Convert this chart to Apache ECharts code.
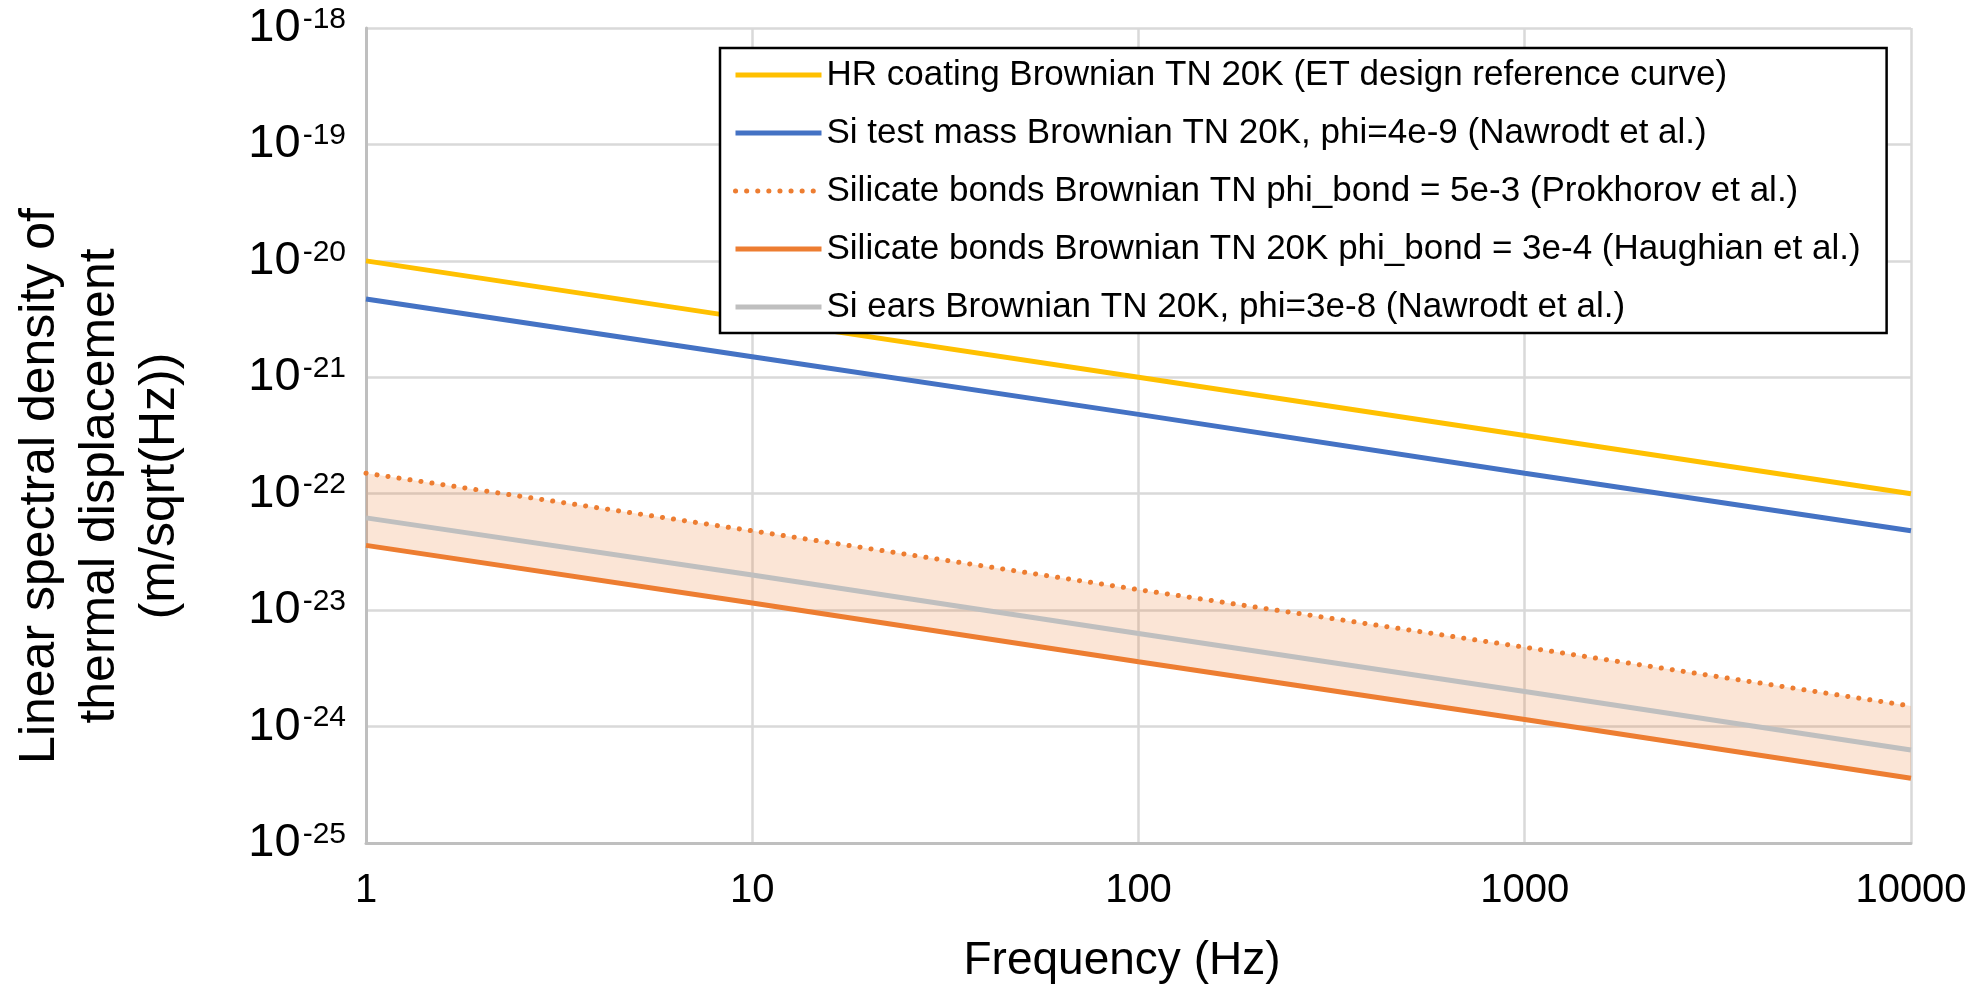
<!DOCTYPE html>
<html>
<head>
<meta charset="utf-8">
<script src="https://cdn.jsdelivr.net/npm/echarts@6/dist/echarts.min.js"></script>
<style>
  html, body { margin: 0; padding: 0; background: #fff; }
  #chart { width: 1973px; height: 984px; }
</style>
</head>
<body>
<div id="chart"></div>
<script>
  // frequencies (Hz) and noise levels (m/sqrt(Hz))
  const freqs = [1, 10, 100, 1000, 10000]
  const hrCoating = [1e-20, 3.16e-21, 1e-21, 3.16e-22, 1e-22]
  const siTestMass = [4.7e-21, 1.5e-21, 4.8e-22, 1.5e-22, 4.8e-23]
  const bondsProkhorov = [1.5e-22, 4.8e-23, 1.5e-23, 4.8e-24, 1.5e-24]
  const bondsHaughian = [3.6e-23, 1.15e-23, 3.6e-24, 1.15e-24, 3.6e-25]
  const siEars = [6.2e-23, 2e-23, 6.3e-24, 2e-24, 6.3e-25]
  // y ticks as powers of ten
  const yExpMin = -25
  const yExpMax = -18

  const names = [
    'HR coating Brownian TN 20K (ET design reference curve)',
    'Si test mass Brownian TN 20K, phi=4e-9 (Nawrodt et al.)',
    'Silicate bonds Brownian TN phi_bond = 5e-3 (Prokhorov et al.)',
    'Silicate bonds Brownian TN 20K phi_bond = 3e-4 (Haughian et al.)',
    'Si ears Brownian TN 20K, phi=3e-8 (Nawrodt et al.)',
  ]

  const font = "'Liberation Sans', Arial, Helvetica, sans-serif"
  // echarts rounds values below 1e-20 to zero, so the y axis works on log10 of the value
  const pairs = arr => freqs.map((f, i) => [f, Math.log10(arr[i])])
  const lineItem = { type: 'line', symbol: 'none', showSymbol: false, smooth: false, z: 3 }

  const chart = echarts.init(document.getElementById('chart'))
  chart.setOption({
    backgroundColor: '#fff',
    animation: false,
    grid: { left: 366, right: 62, top: 28, bottom: 141 },
    legend: {
      orient: 'vertical',
      left: 720,
      top: 48,
      data: names,
      itemWidth: 86,
      itemHeight: 14,
      itemGap: 18,
      padding: [7, 26, 6, 13],
      backgroundColor: '#fff',
      borderColor: '#000',
      borderWidth: 2.5,
      borderRadius: 0,
      itemStyle: { opacity: 0 },
      lineStyle: { width: 5 },
      textStyle: { fontFamily: font, fontSize: 35, color: '#000', lineHeight: 40 },
    },
    graphic: [
      {
        type: 'text',
        x: 100,
        y: 486,
        rotation: Math.PI / 2,
        style: {
          text: 'Linear spectral density of\nthermal displacement\n(m/sqrt(Hz))',
          font: `50px ${font}`,
          lineHeight: 60,
          fill: '#000',
          align: 'center',
          verticalAlign: 'middle',
        },
      },
      {
        type: 'text',
        x: 1122,
        y: 961,
        style: {
          text: 'Frequency (Hz)',
          font: `46px ${font}`,
          fill: '#000',
          align: 'center',
          verticalAlign: 'middle',
        },
      },
    ],
    xAxis: {
      type: 'log',
      logBase: 10,
      min: 1,
      max: 10000,
      axisLine: { show: true, lineStyle: { color: '#bfbfbf', width: 3 } },
      axisTick: { show: false },
      axisLabel: { fontFamily: font, fontSize: 40, color: '#000', margin: 28, formatter: v => String(v) },
      splitLine: { show: true, lineStyle: { color: '#d9d9d9', width: 2.5 } },
    },
    yAxis: {
      type: 'value',
      min: yExpMin,
      max: yExpMax,
      interval: 1,
      axisLine: { show: true, lineStyle: { color: '#bfbfbf', width: 3 } },
      axisTick: { show: false },
      axisLabel: {
        margin: 20,
        formatter: v => `{b|10}{s|${v}}`,
        rich: {
          b: { fontFamily: font, fontSize: 47, lineHeight: 47, color: '#000' },
          s: { fontFamily: font, fontSize: 30, lineHeight: 30, color: '#000', verticalAlign: 'top', padding: [0, 0, 0, 2] },
        },
      },
      splitLine: { show: true, lineStyle: { color: '#d9d9d9', width: 2.5 } },
    },
    series: [
      {
        // shaded band between the two silicate bond estimates, translucent so the grid shows through
        type: 'custom',
        name: 'band',
        z: 1,
        silent: true,
        data: [[freqs[0], Math.log10(bondsProkhorov[0])]],
        renderItem: (params, api) => {
          const upper = freqs.map((f, i) => api.coord([f, Math.log10(bondsProkhorov[i])]))
          const lower = freqs.map((f, i) => api.coord([f, Math.log10(bondsHaughian[i])])).reverse()
          return { type: 'polygon', shape: { points: upper.concat(lower) }, style: { fill: 'rgba(237,125,49,0.2)' } }
        },
      },
      { name: names[0], ...lineItem, color: '#ffc000', lineStyle: { width: 5, color: '#ffc000' }, data: pairs(hrCoating) },
      { name: names[1], ...lineItem, color: '#4472c4', lineStyle: { width: 5, color: '#4472c4' }, data: pairs(siTestMass) },
      { name: names[2], ...lineItem, color: '#ed7d31', lineStyle: { width: 5, color: '#ed7d31', type: [0.1, 11], cap: 'round' }, data: pairs(bondsProkhorov) },
      { name: names[3], ...lineItem, color: '#ed7d31', lineStyle: { width: 5, color: '#ed7d31' }, data: pairs(bondsHaughian) },
      { name: names[4], ...lineItem, color: '#bfbfbf', lineStyle: { width: 5, color: '#bfbfbf' }, data: pairs(siEars) },
    ],
  })
</script>
</body>
</html>
